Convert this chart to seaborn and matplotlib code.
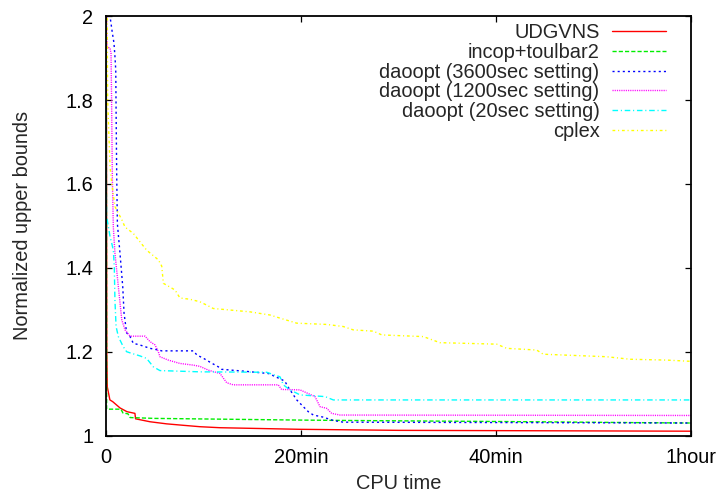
import numpy as np
import pandas as pd
import matplotlib
matplotlib.use("Agg")
import matplotlib.pyplot as plt
import seaborn as sns

# ---- data (time in seconds, normalized upper bound) ----
udgvns_t = [0, 5, 8, 24, 41, 86, 129, 178, 182, 271, 373, 474, 578, 701, 1193, 1800, 3600]
udgvns_y = [2.5, 1.20, 1.116, 1.085, 1.081, 1.066, 1.057, 1.053, 1.040, 1.033, 1.028, 1.0246, 1.0212, 1.0188, 1.0150, 1.0125, 1.0105]

incop_t = [0, 4, 92, 104, 135, 148, 300, 1193, 1500, 2620, 3236, 3600]
incop_y = [2.5, 1.063, 1.063, 1.054, 1.052, 1.043, 1.041, 1.037, 1.036, 1.033, 1.031, 1.030]

d3600_t = [0, 20, 26, 39, 49, 55, 60, 62, 66, 70, 86, 103, 111, 127, 148, 168, 209, 271, 322, 343, 537,
           560, 601, 640, 691, 712, 866, 1000, 1045, 1100, 1122, 1174, 1214, 1245, 1276, 1337, 1399, 1460, 3600]
d3600_y = [2.5, 2.05, 1.996, 1.960, 1.936, 1.904, 1.872, 1.776, 1.617, 1.505, 1.435, 1.355, 1.292, 1.245, 1.236, 1.220, 1.216, 1.208, 1.204, 1.202, 1.202,
           1.192, 1.184, 1.175, 1.164, 1.158, 1.153, 1.148, 1.140, 1.130, 1.115, 1.085, 1.069, 1.057, 1.049, 1.044, 1.036, 1.032, 1.030]

d1200_t = [0, 4, 8, 25, 31, 35, 39, 45, 55, 76, 97, 117, 148, 240, 271, 302, 322, 332, 383, 455, 537, 578,
           630, 702, 722, 743, 783, 1060, 1081, 1194, 1286, 1317, 1358, 1389, 1440, 3600]
d1200_y = [2.5, 1.959, 1.927, 1.923, 1.911, 1.776, 1.617, 1.498, 1.435, 1.355, 1.276, 1.252, 1.237, 1.237, 1.224, 1.216, 1.200, 1.188, 1.180, 1.172, 1.168, 1.165,
           1.156, 1.148, 1.137, 1.126, 1.121, 1.121, 1.110, 1.109, 1.093, 1.069, 1.065, 1.053, 1.049, 1.048]

d20_t = [0, 2, 4, 25, 35, 45, 51, 55, 62, 76, 106, 127, 158, 209, 250, 291, 332, 578, 989, 1071, 1091, 1132,
         1174, 1194, 1348, 1399, 3600]
d20_y = [2.5, 1.60, 1.522, 1.474, 1.459, 1.442, 1.403, 1.323, 1.260, 1.236, 1.212, 1.200, 1.196, 1.190, 1.184, 1.164, 1.155, 1.152, 1.151, 1.140, 1.121, 1.109,
         1.101, 1.097, 1.093, 1.085, 1.085]

cplex_t = [0, 10, 25, 35, 55, 76, 97, 117, 168, 250, 322, 343, 353, 394, 425, 455, 517, 578, 620, 660, 886, 1009, 1071,
           1174, 1358, 1460, 1522, 1645, 1697, 1953, 2055, 2404, 2466, 2650, 2691, 3081, 3225, 3450, 3600]
cplex_y = [2.5, 1.80, 1.641, 1.602, 1.546, 1.530, 1.515, 1.497, 1.482, 1.442, 1.419, 1.404, 1.363, 1.354, 1.347, 1.328, 1.325, 1.319, 1.311, 1.303, 1.295, 1.2875, 1.280,
           1.268, 1.265, 1.260, 1.252, 1.249, 1.240, 1.236, 1.2215, 1.218, 1.208, 1.204, 1.194, 1.188, 1.182, 1.180, 1.177]

labels = ["UDGVNS", "incop+toulbar2", "daoopt (3600sec setting)", "daoopt (1200sec setting)",
          "daoopt (20sec setting)", "cplex"]
colors = ["#ff0000", "#00ee00", "#0000ff", "#ff00ff", "#00ffff", "#ffff00"]
styles = ["-", (0, (3, 1.5)), (0, (1.5, 2.2)), (0, (0.8, 0.8)), (0, (4, 2, 0.8, 2)), (0, (2, 2, 0.8, 2))]

xticks = [0, 1200, 2400, 3600]
xticklabels = ["0", "20min", "40min", "1hour"]
yticks = [1, 1.2, 1.4, 1.6, 1.8, 2]
yticklabels = ["1", "1.2", "1.4", "1.6", "1.8", "2"]

series = [(udgvns_t, udgvns_y), (incop_t, incop_y), (d3600_t, d3600_y),
          (d1200_t, d1200_y), (d20_t, d20_y), (cplex_t, cplex_y)]

sns.set_style("ticks")
plt.rcParams["font.family"] = ["Liberation Sans", "DejaVu Sans"]
FS = 14.4

fig = plt.figure(figsize=(7.18, 4.96), dpi=100)
ax = fig.add_axes([106 / 718, 1 - 435.6 / 496, 585 / 718, 419.5 / 496])

for (t, y), lab, c, ls in zip(series, labels, colors, styles):
    df = pd.DataFrame({"t": t, "y": y})
    sns.lineplot(data=df, x="t", y="y", ax=ax, color=c, linestyle=ls, linewidth=1.0,
                 label=lab, estimator=None, sort=False)

ax.set_xlim(0, 3600)
ax.set_ylim(1, 2)
ax.set_xticks(xticks)
ax.set_xticklabels(xticklabels)
ax.set_yticks(yticks)
ax.set_yticklabels(yticklabels)
ax.tick_params(direction="in", length=4.3, width=0.9, top=True, right=True,
               labelsize=FS, pad=9, colors="black")
for s in ax.spines.values():
    s.set_visible(True)
    s.set_linewidth(1.3)
    s.set_color("black")
ax.set_xlabel("CPU time", fontsize=FS, labelpad=5)
ax.set_ylabel("Normalized upper bounds", fontsize=FS, labelpad=24)

leg = ax.legend(loc="upper right", bbox_to_anchor=((666 - 106) / 585, (435.6 - 23) / 419.5),
                frameon=False, markerfirst=False, fontsize=FS, borderpad=0, borderaxespad=0,
                handlelength=2.7, handletextpad=0.62, labelspacing=0.04)

fig.savefig("out.png", dpi=100)
